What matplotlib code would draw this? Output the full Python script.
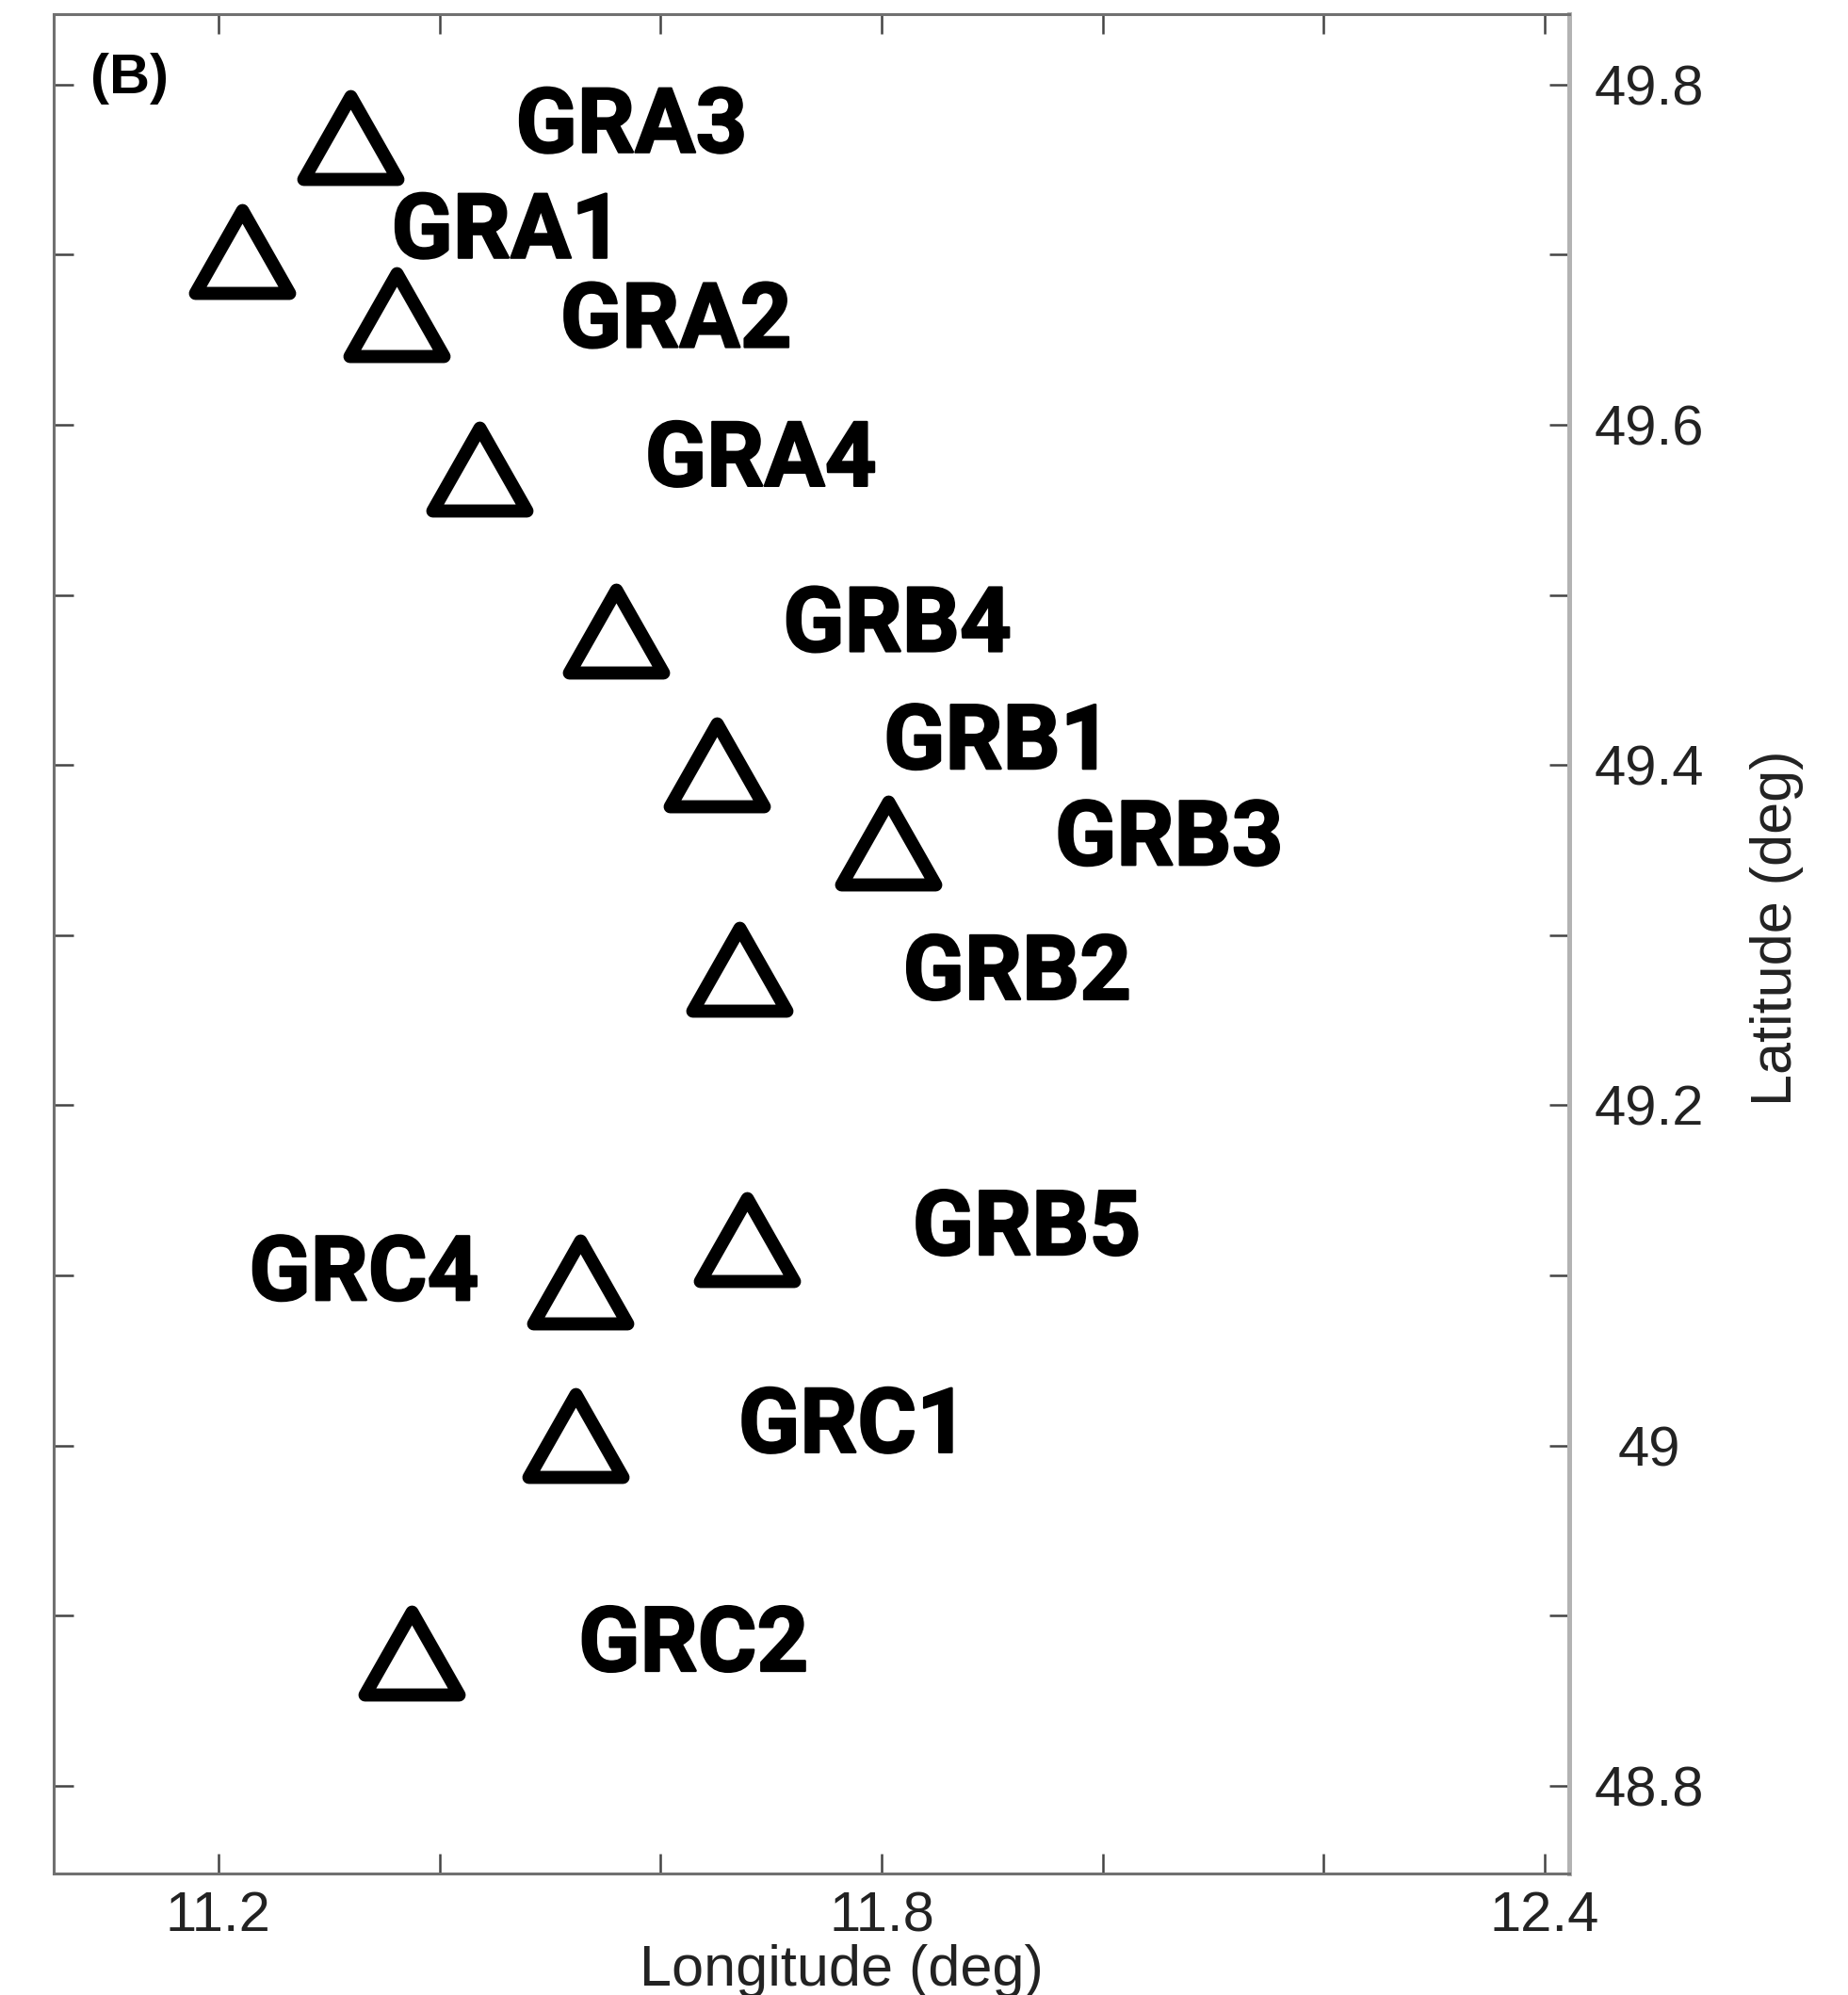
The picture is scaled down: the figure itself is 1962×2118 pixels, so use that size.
import matplotlib
matplotlib.use('Agg')
import matplotlib.pyplot as plt
from matplotlib.path import Path
import matplotlib.patheffects as pe

# ----------------------- Data --------------------------
stations = ['GRA3', 'GRA1', 'GRA2', 'GRA4', 'GRB4', 'GRB1',
            'GRB3', 'GRB2', 'GRB5', 'GRC4', 'GRC1', 'GRC2']
lon = [11.319, 11.221, 11.361, 11.436, 11.560, 11.651,
       11.806, 11.671, 11.678, 11.527, 11.523, 11.375]
lat = [49.769, 49.702, 49.665, 49.574, 49.479, 49.400,
       49.354, 49.280, 49.121, 49.096, 49.006, 48.878]

xticks = [11.2, 11.4, 11.6, 11.8, 12.0, 12.2, 12.4]
xticklabels = ['11.2', '', '', '11.8', '', '', '12.4']
yticks = [48.8, 48.9, 49.0, 49.1, 49.2, 49.3, 49.4, 49.5, 49.6, 49.7, 49.8]
yticklabels = ['48.8', '', '49', '', '49.2', '', '49.4', '', '49.6', '', '49.8']

# label placement relative to each triangle (pixels: right, down to baseline)
label_dx = [176, 159, 174, 176, 177, 177, 177, 174, 176, -107, 173, 177]
label_dy = [16, 7, 35, 18, 22, 4, 23, 32, 16, 19, 18, 19]

# ----------------------- Figure --------------------------
fig = plt.figure(figsize=(19.62, 21.18), dpi=100)
ax = fig.add_axes([0.02905, 0.06091, 0.82008, 0.93201])

# open triangle marker, a little flatter than the default '^'
h = 0.88
tri = Path([(0, h), (-1, -h), (1, -h), (0, h)], closed=True)

ax.plot(lon, lat, linestyle='none', marker=tri, markersize=72,
        markeredgewidth=10, markeredgecolor='black', markerfacecolor='none')

heavy = [pe.withStroke(linewidth=1.5, foreground='black')]
for name, x, y, dx, dy in zip(stations, lon, lat, label_dx, label_dy):
    ax.annotate(name, (x, y), xytext=(dx, -dy), textcoords='offset pixels',
                ha='left' if dx > 0 else 'right', va='baseline',
                fontsize=69, fontweight='bold', family='Roboto',
                path_effects=heavy)

ax.text(0.0242, 0.9790, '(B)', transform=ax.transAxes, ha='left', va='top',
        fontsize=43, fontweight='bold', family='Liberation Sans')

# ----------------------- Axes --------------------------
ax.set_xlim(11.051, 12.422)
ax.set_ylim(48.7485, 49.8414)

ax.set_xticks(xticks)
ax.set_xticklabels(xticklabels, family='Liberation Sans', fontsize=43, color='#222222')
ax.set_yticks(yticks)
ax.set_yticklabels(yticklabels, family='Liberation Sans', fontsize=43, color='#222222')

ax.tick_params(axis='both', direction='in', length=15, width=1.8, color='#444444',
               top=True, bottom=True, left=True, right=True)
ax.tick_params(axis='x', labelbottom=True, labeltop=False, pad=13)
ax.tick_params(axis='y', labelleft=False, labelright=True, pad=61)
for lbl in ax.get_yticklabels():
    lbl.set_horizontalalignment('center')

for side in ['left', 'top', 'bottom']:
    ax.spines[side].set_color('#707070')
    ax.spines[side].set_linewidth(2.2)
ax.spines['right'].set_color('#b3b3b3')
ax.spines['right'].set_linewidth(3.6)

ax.set_xlabel('Longitude (deg)', family='Liberation Sans', fontsize=44, color='#222222')
ax.xaxis.set_label_coords(0.5196, -0.0381)
ax.yaxis.set_label_position('right')
ax.set_ylabel('Latitude (deg)', family='Liberation Sans', fontsize=44, color='#222222')
ax.yaxis.set_label_coords(1.1193, 0.5086)

fig.savefig('out.png', dpi=100)
